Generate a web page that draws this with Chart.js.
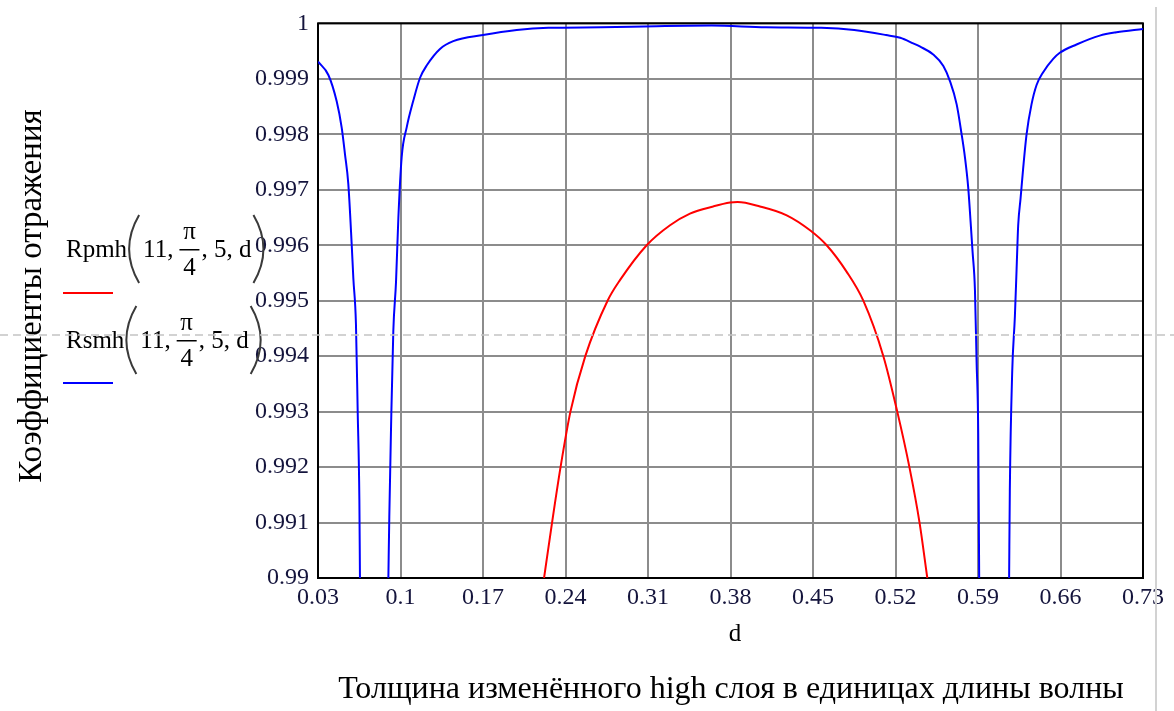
<!DOCTYPE html>
<html>
<head>
<meta charset="utf-8">
<script src="https://cdn.jsdelivr.net/npm/chart.js"></script>
<style>
  body { margin: 0; background: #fff; }
  canvas { display: block; }
</style>
</head>
<body>
<canvas id="myChart" width="1174" height="711"></canvas>
<script>
// толщина слоя d (в длинах волны) и Rsmh (синяя кривая), null = ушла ниже 0.99
const dBlue = [0.03, 0.0388, 0.0459, 0.0501, 0.0529, 0.0557, 0.0586, 0.06, 0.0622, 0.0637, 0.0651, 0.0656,
  0.0776,
  0.0897, 0.0905, 0.092, 0.0939, 0.0962, 0.0982, 0.101, 0.1053, 0.1109, 0.1166, 0.1225, 0.1335, 0.1448,
  0.17, 0.1986, 0.2254, 0.27, 0.317, 0.364, 0.41, 0.457, 0.485, 0.512, 0.524, 0.535, 0.541, 0.552,
  0.5606, 0.5662, 0.5719, 0.5761, 0.5789, 0.5817, 0.5837, 0.5854, 0.5874, 0.5888, 0.5902, 0.591,
  0.6037,
  0.6164, 0.617, 0.619, 0.6213, 0.6227, 0.6241, 0.6261, 0.6283, 0.6312, 0.6354, 0.6397, 0.6453, 0.6538,
  0.6594, 0.6736, 0.6933, 0.7075, 0.73]
const rsmh = [0.99931, 0.99907, 0.99859, 0.99812, 0.99764, 0.99711, 0.99601, 0.9954, 0.99458, 0.99298, 0.99141, 0.99,
  null,
  0.99, 0.9911, 0.99274, 0.99445, 0.99534, 0.9965, 0.99759, 0.99813, 0.99861, 0.99902, 0.99925, 0.99954, 0.99968,
  0.99979, 0.99988, 0.99992, 0.99993, 0.99995, 0.99996, 0.99993, 0.99992, 0.99988, 0.99979, 0.99974, 0.99964, 0.99958, 0.99944,
  0.99923, 0.99896, 0.99854, 0.998, 0.99759, 0.99704, 0.99643, 0.99588, 0.9952, 0.9939, 0.9926, 0.99,
  null,
  0.99, 0.99157, 0.9937, 0.99472, 0.99554, 0.99636, 0.99684, 0.99738, 0.998, 0.99854, 0.99889, 0.99912, 0.99936,
  0.99947, 0.99962, 0.99978, 0.99984, 0.9999]

// Rpmh (красная кривая)
const dRed = [0.2218, 0.2286, 0.2358, 0.2442, 0.2568, 0.2757, 0.2862, 0.3089, 0.3287, 0.3456, 0.3654, 0.3796,
  0.386, 0.405, 0.4277, 0.4475, 0.4616, 0.4786, 0.4927, 0.5097, 0.5215, 0.5318, 0.5404, 0.547]
const rpmh = [0.99, 0.991, 0.992, 0.993, 0.994, 0.995, 0.99537, 0.996, 0.99636, 0.99657, 0.9967, 0.99677,
  0.99678, 0.9967, 0.99654, 0.99627, 0.996, 0.99552, 0.995, 0.994, 0.993, 0.992, 0.991, 0.99]

// деления осей
const xTicks = [0.03, 0.1, 0.17, 0.24, 0.31, 0.38, 0.45, 0.52, 0.59, 0.66, 0.73]
const yTicks = [0.99, 0.991, 0.992, 0.993, 0.994, 0.995, 0.996, 0.997, 0.998, 0.999, 1]

const serif = '"Liberation Serif", "Times New Roman", serif'
const toPoints = (xs, ys) => xs.map((x, i) => ({ x: x, y: ys[i] }))
const trim = v => String(parseFloat(v.toFixed(4)))

// подписи, легенда как в Mathcad, пунктир курсора
const extras = {
  id: 'extras',
  beforeDatasetsDraw(chart) {
    const ctx = chart.ctx
    const a = chart.chartArea
    ctx.save()
    ctx.strokeStyle = '#000'
    ctx.lineWidth = 2
    ctx.strokeRect(a.left, a.top, a.right - a.left, a.bottom - a.top)
    ctx.restore()
  },
  afterDraw(chart) {
    const ctx = chart.ctx
    ctx.save()

    // подпись оси Y
    ctx.fillStyle = '#000'
    ctx.font = '33px ' + serif
    ctx.textAlign = 'center'
    ctx.textBaseline = 'middle'
    ctx.save()
    ctx.translate(32, 296)
    ctx.rotate(-Math.PI / 2)
    ctx.fillText('Коэффициенты отражения', 0, 0)
    ctx.restore()

    // подписи оси X
    ctx.font = '25px ' + serif
    ctx.fillText('d', 735, 634)
    ctx.font = '32px ' + serif
    ctx.fillText('Толщина изменённого high слоя в единицах длины волны', 731, 690)

    // легенда
    drawExpr(ctx, 'Rpmh', 257, 249, 293, '#ff0000')
    drawExpr(ctx, 'Rsmh', 348, 340, 383, '#0000ff')

    // пунктир
    ctx.strokeStyle = '#c4c4c4'
    ctx.lineWidth = 1.5
    ctx.setLineDash([8, 5])
    ctx.beginPath()
    ctx.moveTo(0, 335)
    ctx.lineTo(1174, 335)
    ctx.stroke()
    ctx.setLineDash([])

    // вертикальная серая линия справа
    ctx.strokeStyle = '#d2d2d2'
    ctx.lineWidth = 2
    ctx.beginPath()
    ctx.moveTo(1156, 7)
    ctx.lineTo(1156, 711)
    ctx.stroke()
    ctx.restore()
  }
}

function paren(ctx, x, top, bottom, dir) {
  // dir = 1 левая скобка, -1 правая
  const mid = (top + bottom) / 2
  ctx.beginPath()
  ctx.moveTo(x, top)
  ctx.quadraticCurveTo(x - dir * 20, mid, x, bottom)
  ctx.stroke()
}

function drawExpr(ctx, name, base, mid, lineY, color) {
  ctx.save()
  ctx.fillStyle = '#000'
  ctx.textAlign = 'left'
  ctx.textBaseline = 'alphabetic'
  ctx.font = '25px ' + serif
  let x = 66
  ctx.fillText(name, x, base)
  x += ctx.measureText(name).width
  ctx.strokeStyle = '#3a3a3a'
  ctx.lineWidth = 2
  paren(ctx, x + 12, mid - 34, mid + 34, 1)
  x += 16
  ctx.fillText('11,', x, base)
  x += ctx.measureText('11,').width + 6
  const fw = 20
  ctx.textAlign = 'center'
  ctx.fillText('π', x + fw / 2, mid - 10)
  ctx.fillRect(x, mid, fw, 1.5)
  ctx.fillText('4', x + fw / 2, mid + 26)
  ctx.textAlign = 'left'
  x += fw + 2
  ctx.fillText(', 5, d', x, base)
  x += ctx.measureText(', 5, d').width
  paren(ctx, x + 2, mid - 34, mid + 34, -1)
  ctx.strokeStyle = color
  ctx.lineWidth = 2
  ctx.beginPath()
  ctx.moveTo(63, lineY)
  ctx.lineTo(113, lineY)
  ctx.stroke()
  ctx.restore()
}

const ctx = document.getElementById('myChart').getContext('2d')
const myChart = new Chart(ctx, {
  type: 'line',
  data: {
    datasets: [{
      label: 'Rpmh(11, π/4, 5, d)',
      data: toPoints(dRed, rpmh),
      borderColor: '#ff0000',
      borderWidth: 2,
      pointRadius: 0,
      cubicInterpolationMode: 'monotone'
    }, {
      label: 'Rsmh(11, π/4, 5, d)',
      data: toPoints(dBlue, rsmh),
      borderColor: '#0000ff',
      borderWidth: 2,
      pointRadius: 0,
      cubicInterpolationMode: 'monotone'
    }]
  },
  plugins: [extras],
  options: {
    responsive: false,
    animation: false,
    layout: { padding: { left: 0, top: 18, right: 31, bottom: 0 } },
    plugins: { legend: { display: false }, tooltip: { enabled: false } },
    scales: {
      x: {
        type: 'linear',
        min: 0.03,
        max: 0.73,
        afterBuildTicks: s => { s.ticks = xTicks.map(v => ({ value: v })) },
        afterFit: s => { s.height = 133 },
        grid: { color: '#8c8c8c', lineWidth: 2, drawTicks: false },
        border: { display: false },
        ticks: {
          autoSkip: false,
          maxRotation: 0,
          padding: 5,
          color: '#14143c',
          font: { family: serif, size: 24 },
          callback: v => trim(v)
        }
      },
      y: {
        min: 0.99,
        max: 1,
        afterBuildTicks: s => { s.ticks = yTicks.map(v => ({ value: v })) },
        afterFit: s => { s.width = 318 },
        grid: { color: '#8c8c8c', lineWidth: 2, drawTicks: false },
        border: { display: false },
        ticks: {
          autoSkip: false,
          padding: 9,
          color: '#14143c',
          font: { family: serif, size: 24 },
          callback: v => trim(v)
        }
      }
    }
  }
})
</script>
</body>
</html>
